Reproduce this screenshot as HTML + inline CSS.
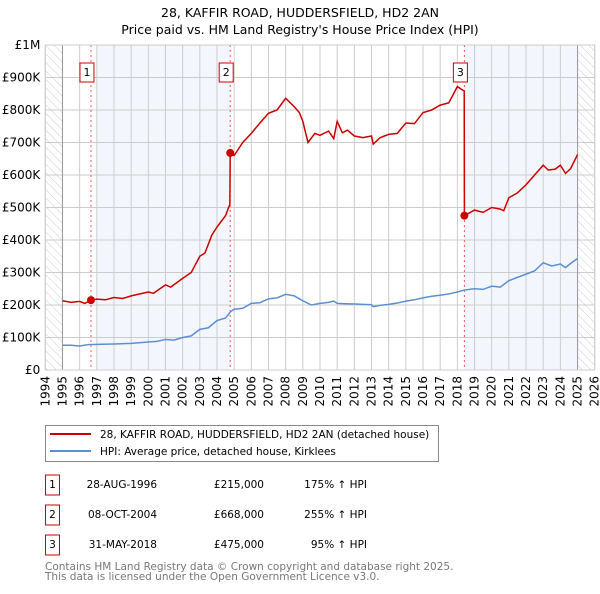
<!DOCTYPE html>
<html><head><meta charset="utf-8">
<style>
body{margin:0;background:#fff;font-family:"DejaVu Sans","Liberation Sans",sans-serif;}
svg text{font-family:"DejaVu Sans","Liberation Sans",sans-serif;}
</style></head>
<body>
<svg id="chart" width="600" height="590" viewBox="0 0 600 590" xmlns="http://www.w3.org/2000/svg">
<defs>
<pattern id="hatch" width="6" height="6" patternUnits="userSpaceOnUse" patternTransform="rotate(-45)">
<line x1="0" y1="0" x2="0" y2="6" stroke="#ccc" stroke-width="1"/>
</pattern>
</defs>
<text x="300" y="17" text-anchor="middle" font-size="12.5">28, KAFFIR ROAD, HUDDERSFIELD, HD2 2AN</text>
<text x="300" y="34" text-anchor="middle" font-size="12.5">Price paid vs. HM Land Registry's House Price Index (HPI)</text>
<g id="plot"></g>
<rect x="45.5" y="425.5" width="393" height="36" fill="#fff" stroke="#888"/>
<line x1="50" y1="434" x2="91" y2="434" stroke="#cc0000" stroke-width="2"/>
<text x="100" y="438" font-size="10.5">28, KAFFIR ROAD, HUDDERSFIELD, HD2 2AN (detached house)</text>
<line x1="50" y1="451" x2="91" y2="451" stroke="#5b8fd0" stroke-width="2"/>
<text x="100" y="455" font-size="10.5">HPI: Average price, detached house, Kirklees</text>
<g id="table" font-size="10.5"></g>
<text x="45" y="570" font-size="10.5" fill="#777">Contains HM Land Registry data © Crown copyright and database right 2025.</text>
<text x="45" y="580" font-size="10.5" fill="#777">This data is licensed under the Open Government Licence v3.0.</text>
</svg>
<script>
const hpiYears=[1995,1995.5,1996,1996.5,1997,1998,1999,2000,2000.5,2001,2001.5,2002,2002.5,2003,2003.5,2004,2004.5,2004.8,2005,2005.5,2006,2006.5,2007,2007.5,2008,2008.5,2009,2009.5,2010,2010.5,2010.8,2011,2011.5,2012,2012.5,2013,2013.1,2013.5,2014,2014.5,2015,2015.5,2016,2016.5,2017,2017.5,2018,2018.4,2019,2019.5,2020,2020.5,2021,2021.5,2022,2022.5,2023,2023.5,2024,2024.3,2024.6,2025];
const hpiValues=[76,76,74,78,79,80,82,86,88,94,92,100,105,125,130,152,160,180,187,190,205,207,219,222,233,228,213,200,205,208,212,205,204,203,202,201,195,199,202,206,212,216,222,227,230,234,240,246,250,248,258,255,275,285,295,305,330,320,326,315,328,343];
const redYears=[1995,1995.5,1996,1996.3,1996.66,1997,1997.5,1998,1998.5,1999,2000,2000.3,2001,2001.3,2002,2002.5,2003,2003.3,2003.7,2004,2004.5,2004.75,2004.77,2005,2005.5,2006,2006.5,2007,2007.5,2008,2008.5,2008.8,2009,2009.3,2009.7,2010,2010.5,2010.8,2011,2011.3,2011.6,2012,2012.5,2013,2013.1,2013.5,2014,2014.5,2015,2015.5,2016,2016.5,2017,2017.5,2018,2018.4,2018.41,2019,2019.5,2020,2020.5,2020.7,2021,2021.5,2022,2022.5,2023,2023.3,2023.7,2024,2024.3,2024.6,2025];
const redValues=[213,208,211,205,215,218,216,223,220,228,240,236,262,255,282,300,350,360,415,440,475,510,668,660,700,728,760,790,800,836,810,792,765,700,728,722,735,712,765,730,738,720,715,720,695,715,725,728,760,758,792,800,815,822,872,858,475,492,485,500,495,490,530,545,570,600,630,615,618,630,605,620,663];
const sales=[{n:'1',yr:1996.66,v:215,date:'28-AUG-1996',price:'£215,000',pct:'175% ↑ HPI'},{n:'2',yr:2004.77,v:668,date:'08-OCT-2004',price:'£668,000',pct:'255% ↑ HPI'},{n:'3',yr:2018.41,v:475,date:'31-MAY-2018',price:'£475,000',pct:'95% ↑ HPI'}];
const yTicks=[0,100,200,300,400,500,600,700,800,900,1000];
const yTickLabels=['£0','£100K','£200K','£300K','£400K','£500K','£600K','£700K','£800K','£900K','£1M'];

const X0=45.3,X1=594.7,Y0=370,Y1=45;
const x=yr=>X0+(yr-1994)/(2026-1994)*(X1-X0);
const y=v=>Y0-v/1000*(Y0-Y1);
const NS='http://www.w3.org/2000/svg';
const plot=document.getElementById('plot');
function mk(tag,attrs,parent){const e=document.createElementNS(NS,tag);for(const k in attrs)e.setAttribute(k,attrs[k]);(parent||plot).appendChild(e);return e;}

let e;
e=mk('rect',{x:X0,y:Y1,width:X1-X0,height:Y0-Y1,fill:'#fff'});


e=mk('rect',{x:x(1997),y:Y1,width:x(sales[1].yr)-x(1997),height:Y0-Y1,fill:'#eef3fc',opacity:0.7});


e=mk('rect',{x:x(sales[2].yr),y:Y1,width:x(2025)-x(sales[2].yr),height:Y0-Y1,fill:'#eef3fc',opacity:0.7});


e=mk('rect',{x:X0,y:Y1,width:x(1995)-X0,height:Y0-Y1,fill:'url(#hatch)'});


e=mk('rect',{x:x(2025),y:Y1,width:X1-x(2025),height:Y0-Y1,fill:'url(#hatch)'});



for(let yr=1994;yr<=2026;yr++){
  e=mk('line',{x1:x(yr),x2:x(yr),y1:Y1,y2:Y0,stroke:'#ccc','stroke-width':1});
  
  
  e=mk('text',{x:0,y:0,'font-size':12,'text-anchor':'end',transform:`translate(${x(yr)+4},${Y0+6}) rotate(-90)`});
  e.textContent=yr;
  
  
}
yTicks.forEach((v,i)=>{
  e=mk('line',{x1:X0,x2:X1,y1:y(v),y2:y(v),stroke:'#ccc','stroke-width':1});
  
  
  e=mk('text',{x:X0-5,y:y(v)+4,'font-size':12,'text-anchor':'end'});
  e.textContent=yTickLabels[i];
  
  
});
e=mk('line',{x1:x(1995),x2:x(1995),y1:Y1,y2:Y0,stroke:'#999','stroke-width':1});


e=mk('line',{x1:x(2025),x2:x(2025),y1:Y1,y2:Y0,stroke:'#999','stroke-width':1});



sales.forEach(s=>{
  e=mk('line',{x1:x(s.yr),x2:x(s.yr),y1:Y1,y2:Y0,stroke:'#e55','stroke-width':1,'stroke-dasharray':'2,3'});
  
  
});

e=mk('polyline',{points:hpiYears.map((t,i)=>x(t)+','+y(hpiValues[i])).join(' '),fill:'none',stroke:'#5b8fd0','stroke-width':1.5});


e=mk('polyline',{points:redYears.map((t,i)=>x(t)+','+y(redValues[i])).join(' '),fill:'none',stroke:'#cc0000','stroke-width':1.5});



sales.forEach(s=>{
  e=mk('circle',{cx:x(s.yr),cy:y(s.v),r:4,fill:'#cc0000'});
  
  
  e=mk('rect',{x:x(s.yr)-11,y:63,width:14,height:19,fill:'#fff',stroke:'#cc0000'});
  
  
  e=mk('text',{x:x(s.yr)-4,y:76,'font-size':11,'text-anchor':'middle'});
  e.textContent=s.n;
  
  
});
e=mk('rect',{x:X0,y:Y1,width:X1-X0,height:Y0-Y1,fill:'none',stroke:'#ccc'});



const tbl=document.getElementById('table');
sales.forEach((s,i)=>{
  const ty=485+i*30;
  e=mk('rect',{x:45.5,y:ty-10,width:14,height:20,fill:'#fff',stroke:'#cc0000'},tbl);
  
  
  e=mk('text',{x:52.5,y:ty+3,'text-anchor':'middle'},tbl);e.textContent=s.n;
  
  
  e=mk('text',{x:157,y:ty+3,'text-anchor':'end'},tbl);e.textContent=s.date;
  
  
  e=mk('text',{x:264,y:ty+3,'text-anchor':'end'},tbl);e.textContent=s.price;
  
  
  e=mk('text',{x:367,y:ty+3,'text-anchor':'end'},tbl);e.textContent=s.pct;
  
  
});
</script>
</body></html>
